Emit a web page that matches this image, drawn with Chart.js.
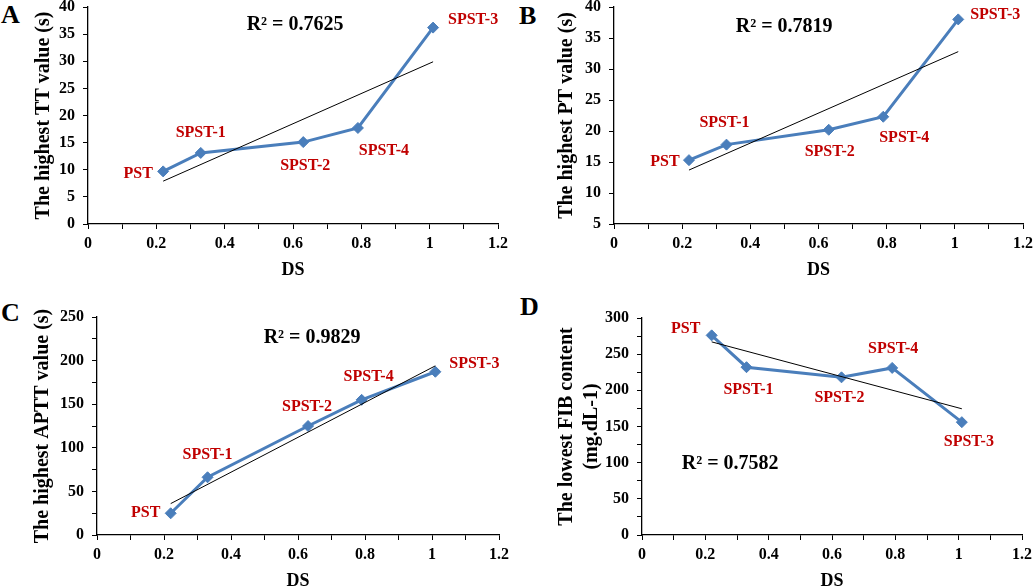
<!DOCTYPE html>
<html>
<head>
<meta charset="utf-8">
<script src="https://cdn.jsdelivr.net/npm/chart.js@4/dist/chart.umd.min.js"></script>
<style>
  html, body { margin:0; padding:0; background:#fff; width:1034px; height:588px; overflow:hidden; }
  body { position:relative; }
  canvas { position:absolute; }
  .letter { position:absolute; font-family:'Liberation Serif','Times New Roman',serif; font-weight:bold; font-size:26px; line-height:26px; color:#000; }
</style>
</head>
<body>
<div class="letter" style="left:1px;top:2px;">A</div>
<div class="letter" style="left:519px;top:3px;">B</div>
<div class="letter" style="left:1px;top:300px;">C</div>
<div class="letter" style="left:520px;top:294px;">D</div>
<canvas id="cA"></canvas>
<canvas id="cB"></canvas>
<canvas id="cC"></canvas>
<canvas id="cD"></canvas>
<script>
// ---------- data ----------
const dsValues = [0.22, 0.33, 0.63, 0.79, 1.01];
const sampleNames = ['PST', 'SPST-1', 'SPST-2', 'SPST-4', 'SPST-3'];
const ttValues = [9.7, 13.1, 15.1, 17.7, 36.2];
const ptValues = [15.3, 17.8, 20.2, 22.3, 38.0];
const apttValues = [24.9, 66.2, 125.0, 155.0, 187.2];
const fibValues = [276, 232, 218, 231, 156];
const trendX = [0.22, 1.01];
const ttTrend = [7.9, 29.9];
const ptTrend = [13.7, 32.8];
const apttTrend = [36.0, 194.0];
const fibTrend = [267.0, 174.5];
const r2Labels = ['R² = 0.7625', 'R² = 0.7819', 'R² = 0.9829', 'R² = 0.7582'];
const xTickValues = [0, 0.1, 0.2, 0.3, 0.4, 0.5, 0.6, 0.7, 0.8, 0.9, 1.0, 1.1, 1.2];
const xTickLabels = ['0', '', '0.2', '', '0.4', '', '0.6', '', '0.8', '', '1', '', '1.2'];
const yTicksA = [0, 5, 10, 15, 20, 25, 30, 35, 40];
const yTicksB = [5, 10, 15, 20, 25, 30, 35, 40];
const yTicksC = [0, 25, 50, 75, 100, 125, 150, 175, 200, 225, 250];
const yTicksD = [0, 25, 50, 75, 100, 125, 150, 175, 200, 225, 250, 275, 300];
const yTitleA = 'The highest TT value (s)';
const yTitleB = 'The highest PT value (s)';
const yTitleC = 'The highest APTT value (s)';
const yTitleD = ['The lowest FIB content', '(mg.dL-1)'];
const xTitle = 'DS';

// ---------- styling / layout ----------
const FONT = "'Liberation Serif','Times New Roman',serif";
const BLUE = '#4a7ebb';
const RED = '#c00000';

const panels = [
  { id:'cA', values: ttValues, trend: ttTrend, yTicks: yTicksA, yTitle: yTitleA, r2: r2Labels[0],
    canvasLeft:0, axisX:88, right:498, top:7, bottom:224, titlePad:32, titleLH:1.2, yLabelEvery:1,
    r2Pos:[0.505, 0.083],
    offs:[[-25,2],[0,-20],[2,24],[26,23],[40,-8]] },
  { id:'cB', values: ptValues, trend: ptTrend, yTicks: yTicksB, yTitle: yTitleB, r2: r2Labels[1],
    canvasLeft:517, axisX:614, right:1023, top:7, bottom:224, titlePad:38, titleLH:1.2, yLabelEvery:1,
    r2Pos:[0.416, 0.092],
    offs:[[-24,2],[-2,-22],[1,22],[21,21],[37,-5]] },
  { id:'cC', values: apttValues, trend: apttTrend, yTicks: yTicksC, yTitle: yTitleC, r2: r2Labels[2],
    canvasLeft:0, axisX:97, right:499, top:317, bottom:535, titlePad:31, titleLH:1.2, yLabelEvery:2,
    r2Pos:[0.535, 0.096],
    offs:[[-25,0],[0,-22],[-1,-19],[7,-23],[39,-8]] },
  { id:'cD', values: fibValues, trend: fibTrend, yTicks: yTicksD, yTitle: yTitleD, r2: r2Labels[3],
    canvasLeft:517, axisX:642, right:1022, top:318, bottom:535, titlePad:37.5, titleLH:1.25, yLabelEvery:2,
    r2Pos:[0.232, 0.673],
    offs:[[-26,-7],[2,23],[-2,21],[1,-19],[7,20]] }
];

const PAD_TOP = 10, PAD_RIGHT = 12, XH = 60;

function zeroPad(s) { s.paddingTop = 0; s.paddingBottom = 0; s.paddingLeft = 0; s.paddingRight = 0; }

panels.forEach(p => {
  const cv = document.getElementById(p.id);
  const cTop = p.top - PAD_TOP;
  const w = p.right + PAD_RIGHT - p.canvasLeft;
  const h = p.bottom + XH - cTop;
  cv.width = w; cv.height = h;
  cv.style.left = p.canvasLeft + 'px';
  cv.style.top = cTop + 'px';
  cv.style.width = w + 'px';
  cv.style.height = h + 'px';

  const labelPlugin = {
    id: 'labels_' + p.id,
    afterDatasetsDraw(chart) {
      const ctx = chart.ctx;
      const meta = chart.getDatasetMeta(1);
      ctx.save();
      ctx.font = 'bold 16px ' + FONT;
      ctx.fillStyle = RED;
      ctx.textAlign = 'center';
      ctx.textBaseline = 'middle';
      meta.data.forEach((pt, i) => {
        ctx.fillText(sampleNames[i], pt.x + p.offs[i][0], pt.y + p.offs[i][1]);
      });
      const a = chart.chartArea;
      ctx.font = 'bold 20px ' + FONT;
      ctx.fillStyle = '#000';
      ctx.fillText(p.r2, a.left + p.r2Pos[0] * (a.right - a.left), a.top + p.r2Pos[1] * (a.bottom - a.top));
      ctx.restore();
    }
  };

  new Chart(cv, {
    type: 'scatter',
    data: {
      datasets: [
        { label: 'trend', data: trendX.map((x, i) => ({ x, y: p.trend[i] })), showLine: true,
          borderColor: '#000', borderWidth: 1, pointRadius: 0, fill: false },
        { label: 'series', data: dsValues.map((x, i) => ({ x, y: p.values[i] })), showLine: true,
          borderColor: BLUE, borderWidth: 3, pointStyle: 'rectRot', pointRadius: 5.5,
          pointBackgroundColor: BLUE, pointBorderColor: BLUE, pointBorderWidth: 1, fill: false }
      ]
    },
    options: {
      responsive: false, animation: false, devicePixelRatio: 1,
      layout: { padding: { left: 0, top: PAD_TOP, right: PAD_RIGHT, bottom: 0 } },
      plugins: { legend: { display: false }, tooltip: { enabled: false } },
      scales: {
        x: {
          type: 'linear', min: 0, max: 1.2,
          afterBuildTicks: s => { s.ticks = xTickValues.map(v => ({ value: v })); },
          afterFit: s => { s.height = XH; zeroPad(s); },
          ticks: { autoSkip: false, maxRotation: 0, minRotation: 0, padding: 5.4, color: '#000',
                   font: { family: FONT, size: 16, weight: 'bold' },
                   callback: (v, i) => xTickLabels[i] },
          grid: { drawOnChartArea: false, drawTicks: true, tickLength: 5, color: '#000', lineWidth: 1 },
          border: { display: true, color: '#000', width: 1.3 },
          title: { display: true, text: xTitle, color: '#000', padding: { top: 0, bottom: 3.2 },
                   font: { family: FONT, size: 18, weight: 'bold', lineHeight: 1.2 } }
        },
        y: {
          type: 'linear', min: p.yTicks[0], max: p.yTicks[p.yTicks.length - 1],
          afterBuildTicks: s => { s.ticks = p.yTicks.map(v => ({ value: v })); },
          afterFit: s => { s.width = p.axisX - p.canvasLeft; zeroPad(s); },
          ticks: { autoSkip: false, padding: 8, color: '#000',
                   font: { family: FONT, size: 16, weight: 'bold' },
                   callback: (v, i) => (i % p.yLabelEvery === 0 ? String(p.yTicks[i]) : '') },
          grid: { drawOnChartArea: false, drawTicks: true, tickLength: 5, color: '#000', lineWidth: 1 },
          border: { display: true, color: '#000', width: 1.3 },
          title: { display: true, text: p.yTitle, color: '#000', padding: { top: p.titlePad, bottom: 0 },
                   font: { family: FONT, size: 20, weight: 'bold', lineHeight: p.titleLH } }
        }
      }
    },
    plugins: [labelPlugin]
  });
});
</script>
</body>
</html>
